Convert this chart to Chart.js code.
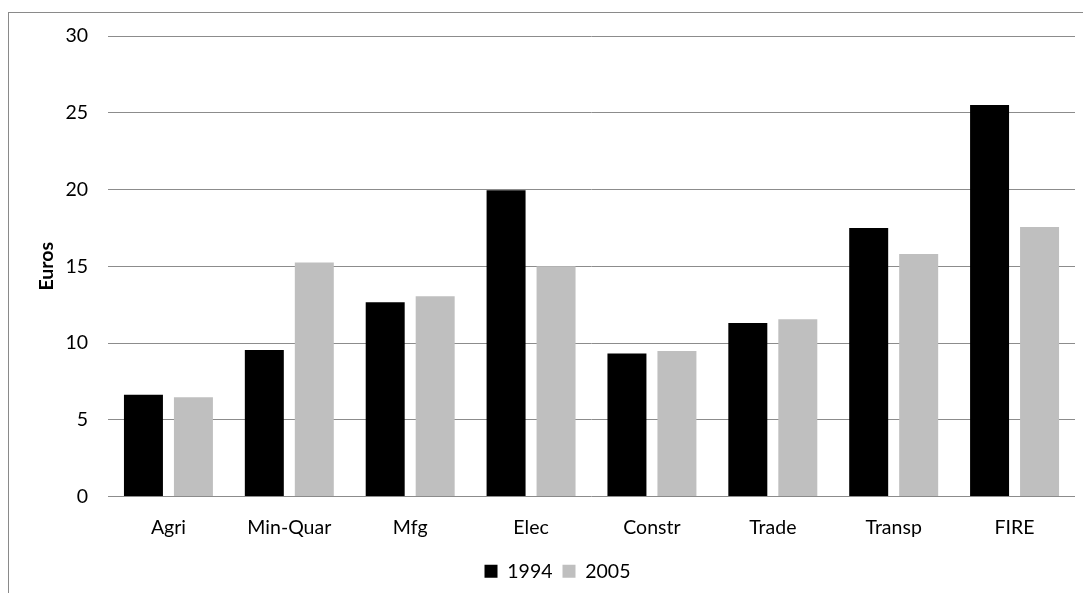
<!DOCTYPE html>
<html>
<head>
<meta charset="utf-8">
<script src="https://cdn.jsdelivr.net/npm/chart.js@4/dist/chart.umd.min.js"></script>
<style>
html,body{margin:0;padding:0;background:#fff;overflow:hidden;}
#frame{position:absolute;left:8px;top:12px;width:1200px;height:700px;border:1px solid #8a8a8a;box-sizing:border-box;}
#wrap{position:absolute;left:0;top:0;width:1083px;height:593px;}
</style>
</head>
<body>
<div id="frame"></div>
<div id="wrap"><canvas id="c" width="1083" height="593"></canvas></div>
<script>
const categories = ["Agri","Min-Quar","Mfg","Elec","Constr","Trade","Transp","FIRE"];
const values1994 = [6.63, 9.55, 12.65, 19.95, 9.31, 11.3, 17.5, 25.5];
const values2005 = [6.46, 15.25, 13.05, 15.0, 9.48, 11.55, 15.8, 17.55];
const seriesNames = ["1994","2005"];
const yTicks = [0,5,10,15,20,25,30];

const FONT = "Lato, 'Liberation Sans', sans-serif";
const FS = 19.5;
Chart.defaults.font.family = FONT;
Chart.defaults.color = '#000';

new Chart(document.getElementById('c'), {
  type: 'bar',
  data: {
    labels: categories,
    datasets: [
      {label: seriesNames[0], data: values1994, backgroundColor: '#000000', categoryPercentage: 0.827, barPercentage: 0.78},
      {label: seriesNames[1], data: values2005, backgroundColor: '#bfbfbf', categoryPercentage: 0.827, barPercentage: 0.78}
    ]
  },
  options: {
    responsive: false,
    animation: false,
    layout: {padding: {top: 36, right: 8, bottom: 2, left: 40}},
    plugins: {
      legend: {
        position: 'bottom',
        labels: {boxWidth: 13, boxHeight: 13, padding: 10, font: {size: FS}, color: '#000'}
      },
      tooltip: {enabled: false}
    },
    scales: {
      x: {
        grid: {display: false, drawTicks: false},
        border: {display: false},
        ticks: {padding: 20, font: {size: FS}, color: '#000', maxRotation: 0},
        afterFit: s => { s.height = 55; }
      },
      y: {
        min: 0, max: 30,
        afterBuildTicks: s => { s.ticks = yTicks.map(v => ({value: v})); },
        grid: {color: '#8c8c8c', lineWidth: 1, drawTicks: false},
        border: {display: false},
        ticks: {padding: 20, font: {size: FS}, color: '#000'},
        title: {display: true, text: 'Euros', font: {size: FS, weight: 'bold'}, color: '#000', padding: {top: -5, bottom: 0}},
        afterFit: s => { s.width = 68; }
      }
    }
  }
});
</script>
</body>
</html>
